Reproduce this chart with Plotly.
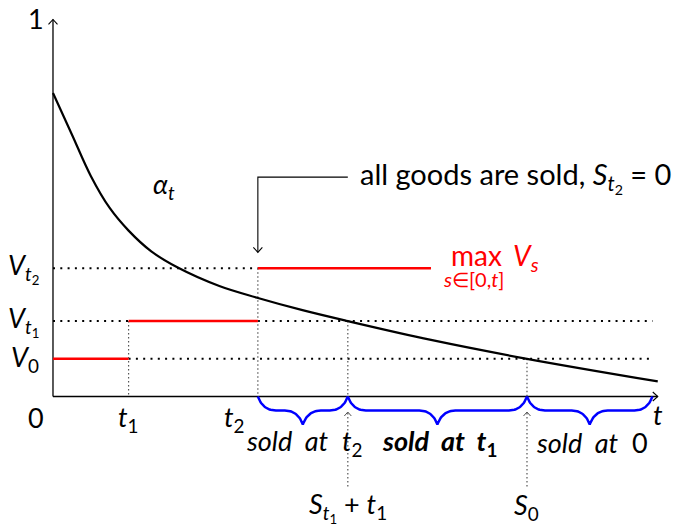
import plotly.graph_objects as go

# ---- values -------------------------------------------------------------
# price curve alpha_t sampled along t
curve_t = [0.0, 0.25, 0.5, 0.75, 1.0, 1.3, 1.65, 2.2, 2.7, 3.3, 3.9, 5.0, 6.27, 8.0]
curve_alpha = [0.805, 0.695, 0.585, 0.5, 0.44, 0.385, 0.342, 0.293, 0.262, 0.229, 0.2, 0.15, 0.1, 0.04]

# decision times and sale-boundary times
T1 = 1.0
T2 = 2.71
S1_PLUS_T1 = 3.9
S0 = 6.27
T_END = 8.0
GUIDE_END = 7.93
Y_TOP = 1.0

# running maximum max_{s in [0,t]} V_s as steps
step_levels = [0.1, 0.2, 0.34]           # V_0, V_t1, V_t2
step_starts = [0.0, T1, T2]
step_ends = [T1, T2, 5.0]
level_labels = ["<i>V</i><sub>0</sub>",
                "<i>V</i><sub><i>t</i><sub>1</sub></sub>",
                "<i>V</i><sub><i>t</i><sub>2</sub></sub>"]

# braces under the time axis
brace_bounds = [T2, S1_PLUS_T1, S0, GUIDE_END]
brace_labels = ["<i>sold  at</i>  <i>t</i><sub>2</sub>",
                "<b><i>sold  at  t</i><sub>1</sub></b>",
                "<i>sold  at</i>  0"]

CALLOUT_Y = 0.582

# ---- canvas -------------------------------------------------------------
W, H = 680, 526
XR = [-0.701, 8.294]
YR = [-0.3435, 1.0517]
PX_X = W / (XR[1] - XR[0])
PX_Y = H / (YR[1] - YR[0])

FONT = "Lato, 'Noto Sans', sans-serif"
FS = 27
BLACK = "#000000"
RED = "#ff0000"
BLUE = "#0000ff"
GREY = "#555555"

fig = go.Figure()


def seg(xs, ys, color, width, dash="solid"):
    fig.add_trace(go.Scatter(x=xs, y=ys, mode="lines",
                             line=dict(color=color, width=width, dash=dash),
                             hoverinfo="skip", showlegend=False))


def chevron(x0, y0, direction, w=4.5, h=5.0):
    """Open arrow tip at (x0, y0); sizes in pixels."""
    dx, dy = w / PX_X, h / PX_Y
    if direction == "up":
        return [x0 - dx, x0, x0 + dx], [y0 - dy, y0, y0 - dy]
    if direction == "down":
        return [x0 - dx, x0, x0 + dx], [y0 + dy, y0, y0 + dy]
    hx, wy = h / PX_X, w / PX_Y
    return [x0 - hx, x0, x0 - hx], [y0 + wy, y0, y0 - wy]


def bez(p0, p1, p2, p3, n=24):
    pts = []
    for i in range(n + 1):
        s = i / n
        a = (1 - s) ** 3
        b = 3 * (1 - s) ** 2 * s
        c = 3 * (1 - s) * s ** 2
        d = s ** 3
        pts.append((a * p0[0] + b * p1[0] + c * p2[0] + d * p3[0],
                    a * p0[1] + b * p1[1] + c * p2[1] + d * p3[1]))
    return pts


def brace(xa, xb, ax=18.0, ay=28.0):
    """Curly brace under the axis from xa to xb (depths in pixels)."""
    L = (xb - xa) * PX_X
    m = L / 2
    pts = []
    pts += bez((0, 0), (0.15 * ax, 0.3 * ay), (0.5 * ax, 0.5 * ay), (ax, 0.5 * ay))
    pts += [(m - ax, 0.5 * ay)]
    pts += bez((m - ax, 0.5 * ay), (m - 0.5 * ax, 0.5 * ay), (m - 0.15 * ax, 0.7 * ay), (m, ay))
    pts += bez((m, ay), (m + 0.15 * ax, 0.7 * ay), (m + 0.5 * ax, 0.5 * ay), (m + ax, 0.5 * ay))
    pts += [(L - ax, 0.5 * ay)]
    pts += bez((L - ax, 0.5 * ay), (L - 0.5 * ax, 0.5 * ay), (L - 0.15 * ax, 0.3 * ay), (L, 0))
    return [xa + u / PX_X for u, _ in pts], [-v / PX_Y for _, v in pts]


# dotted guides
HDOT = "2px,5.3px"
VDOT = "1.4px,2.6px"
V0, VT1, VT2 = step_levels
seg([0, T2], [VT2, VT2], BLACK, 2, HDOT)
seg([0, T1], [VT1, VT1], BLACK, 2, HDOT)
seg([T2, GUIDE_END], [VT1, VT1], BLACK, 2, HDOT)
seg([T1, GUIDE_END], [V0, V0], BLACK, 2, HDOT)
seg([T1, T1], [VT1, 0], GREY, 1.2, VDOT)
seg([T2, T2], [VT2, 0], GREY, 1.2, VDOT)
seg([S1_PLUS_T1, S1_PLUS_T1], [VT1, 0], GREY, 1.2, VDOT)
seg([S0, S0], [V0, 0], GREY, 1.2, VDOT)

# pointers from the braces to the boundary labels
tip_y = -15.5 / PX_Y
low_y = -90.0 / PX_Y
for xb in (S1_PLUS_T1, S0):
    seg([xb, xb], [low_y, tip_y], GREY, 1.2, VDOT)
    cx, cy = chevron(xb, tip_y, "up", w=3.5, h=4.0)
    seg(cx, cy, GREY, 1)

# axes
seg([0, 0], [0, Y_TOP], BLACK, 1.3)
seg([0, T_END], [0, 0], BLACK, 1.3)
cx, cy = chevron(0, Y_TOP, "up")
seg(cx, cy, BLACK, 1.1)
cx, cy = chevron(T_END, 0, "right")
seg(cx, cy, BLACK, 1.1)

# running maximum
for a, b, v in zip(step_starts, step_ends, step_levels):
    seg([a, b], [v, v], RED, 2.5)

# price curve
fig.add_trace(go.Scatter(x=curve_t, y=curve_alpha, mode="lines",
                         line=dict(color=BLACK, width=2.2, shape="spline", smoothing=1.0),
                         hoverinfo="skip", showlegend=False))

# braces
for a, b in zip(brace_bounds[:-1], brace_bounds[1:]):
    bx, by = brace(a, b)
    seg(bx, by, BLUE, 2.5)

# callout
tip = VT2 + 16.0 / PX_Y
seg([S1_PLUS_T1, T2, T2], [CALLOUT_Y, CALLOUT_Y, tip], BLACK, 1.1)
cx, cy = chevron(T2, tip, "down")
seg(cx, cy, BLACK, 1.1)


def label(x, y, text, size=FS, color=BLACK, xanchor="center", yanchor="middle",
          xshift=0, yshift=0):
    fig.add_annotation(x=x, y=y, text=text, showarrow=False, xanchor=xanchor,
                       yanchor=yanchor, xshift=xshift, yshift=yshift,
                       font=dict(family=FONT, size=size, color=color))


label(0, Y_TOP, "1", xshift=-17, yshift=1)
label(0, 0, "0", xshift=-17, yshift=-21)
label(T1, 0, "<i>t</i><sub>1</sub>", yshift=-22)
label(T2, 0, "<i>t</i><sub>2</sub>", xshift=-23, yshift=-22)
label(T_END, 0, "<i>t</i>", yshift=-18)
for v, txt in zip(step_levels, level_labels):
    label(0, v, txt, xanchor="right", xshift=-12)
label(1.47, 0.56, "<i>α</i><sub><i>t</i></sub>")

label(5.0, VT2, "max", size=28, color=RED, xanchor="left", xshift=18, yshift=13)
label(5.0, VT2, "<i>V</i><sub><i>s</i></sub>", size=28, color=RED, xanchor="left", xshift=80, yshift=11)
label(5.0, VT2, "<i>s</i>∈[0,<i>t</i>]", size=20, color=RED, xanchor="left", xshift=10, yshift=-11)

label(S1_PLUS_T1, CALLOUT_Y, "all goods are sold, <i>S</i><sub><i>t</i><sub>2</sub></sub> = 0",
      size=29, xanchor="left", xshift=10)

for a, b, txt in zip(brace_bounds[:-1], brace_bounds[1:], brace_labels):
    label((a + b) / 2, 0, txt, xshift=2, yshift=-46)

label(S1_PLUS_T1, 0, "<i>S</i><sub><i>t</i><sub>1</sub></sub> + <i>t</i><sub>1</sub>", yshift=-110)
label(S0, 0, "<i>S</i><sub>0</sub>", yshift=-110)

fig.update_layout(
    width=W, height=H, margin=dict(l=0, r=0, t=0, b=0),
    paper_bgcolor="white", plot_bgcolor="white", showlegend=False,
    xaxis=dict(range=XR, visible=False, fixedrange=True),
    yaxis=dict(range=YR, visible=False, fixedrange=True),
)

fig.write_html("out.html")
